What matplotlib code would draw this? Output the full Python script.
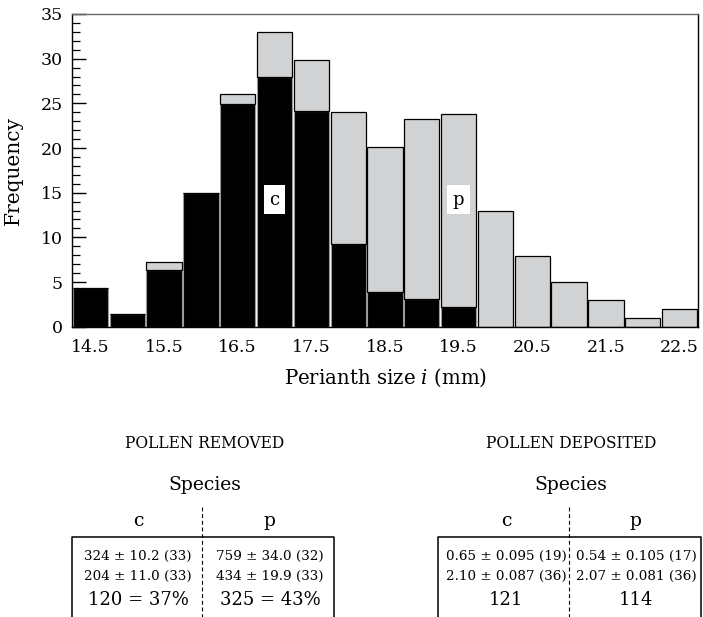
import matplotlib
matplotlib.use("Agg")
import matplotlib.pyplot as plt
from matplotlib.ticker import MultipleLocator
import numpy as np

plt.rcParams['font.family'] = ['DejaVu Serif']
plt.rcParams['mathtext.fontset'] = 'dejavuserif'

# ---- data ----
sizes = [14.5, 15.0, 15.5, 16.0, 16.5, 17.0, 17.5, 18.0, 18.5, 19.0, 19.5,
         20.0, 20.5, 21.0, 21.5, 22.0, 22.5]
freq_c = [4.35, 1.4, 6.3, 15.0, 24.9, 27.9, 24.15, 9.3, 3.9, 3.1, 2.2,
          0, 0, 0, 0, 0, 0]
freq_p = [0, 0, 0.9, 0, 1.1, 5.1, 5.75, 14.7, 16.2, 20.1, 21.65,
          12.9, 7.9, 5.0, 2.95, 1.0, 1.95]
xtick_vals = [14.5, 15.5, 16.5, 17.5, 18.5, 19.5, 20.5, 21.5, 22.5]
label_c_pos = (17.0, 14.2)
label_p_pos = (19.5, 14.2)

removed_title = "POLLEN REMOVED"
deposited_title = "POLLEN DEPOSITED"
species_cols = ["c", "p"]
removed_rows = [["324 ± 10.2 (33)", "759 ± 34.0 (32)"],
                ["204 ± 11.0 (33)", "434 ± 19.9 (33)"]]
removed_total = ["120 = 37%", "325 = 43%"]
deposited_rows = [["0.65 ± 0.095 (19)", "0.54 ± 0.105 (17)"],
                  ["2.10 ± 0.087 (36)", "2.07 ± 0.081 (36)"]]
deposited_total = ["121", "114"]

W, H = 703, 617
fig = plt.figure(figsize=(W / 100, H / 100), dpi=100)

# ---- histogram ----
ax = fig.add_axes([72 / W, 1 - 326.7 / H, 626 / W, 312.7 / H])
x = np.array(sizes)
c = np.array(freq_c)
p = np.array(freq_p)
ax.bar(x, c, width=0.48, color='black', edgecolor='#9a9a9a', linewidth=0.8, zorder=2)
ax.bar(x, p, width=0.48, bottom=c, color='#d1d2d4', edgecolor='black', linewidth=0.9, zorder=2)

ax.set_xlim(14.25, 22.75)
ax.set_ylim(0, 35)
ax.set_xticks(xtick_vals)
ax.set_xticklabels([f"{v:.1f}" for v in xtick_vals])
ax.yaxis.set_major_locator(MultipleLocator(5))
ax.yaxis.set_minor_locator(MultipleLocator(1))
ax.tick_params(axis='x', length=0, pad=8.5, labelsize=12.5)
ax.tick_params(axis='y', which='major', direction='in', length=10, width=1, pad=6.5, labelsize=12.5)
ax.tick_params(axis='y', which='minor', direction='in', length=5.5, width=0.9)
for s in ['left', 'right', 'bottom']:
    ax.spines[s].set_linewidth(1.0)
    ax.spines[s].set_color('black')
ax.spines['top'].set_color('#6a6a6a')
ax.spines['top'].set_linewidth(1.0)

ax.set_ylabel("Frequency", fontsize=14.5)
ax.yaxis.set_label_coords(-0.078, 0.5)
ax.set_xlabel("Perianth size $i$ (mm)", fontsize=14.2)
ax.xaxis.set_label_coords(0.5, -0.128)

bbox = dict(boxstyle='square,pad=0.3', facecolor='white', edgecolor='none')
ax.text(*label_c_pos, "c", ha='center', va='center', fontsize=13, bbox=bbox, zorder=3)
ax.text(*label_p_pos, "p", ha='center', va='center', fontsize=13, bbox=bbox, zorder=3)

# ---- bottom tables (pixel coordinates) ----
ov = fig.add_axes([0, 0, 1, 1])
ov.set_xlim(0, W)
ov.set_ylim(H, 0)
ov.axis('off')
ov.patch.set_visible(False)


def panel(title, rows, totals, cx, left, right, divx, col_x):
    ov.text(cx, 443, title, ha='center', va='center', fontsize=11.2)
    ov.text(cx, 485, "Species", ha='center', va='center', fontsize=13.5)
    for name, xx in zip(species_cols, col_x):
        ov.text(xx, 521, name, ha='center', va='center', fontsize=13.5)
    ov.plot([divx, divx], [507, 640], color='black', lw=0.8,
            linestyle=(0, (3.5, 2.5)), clip_on=False)
    ov.plot([left, left, right, right], [640, 537, 537, 640], color='black',
            lw=1.1, clip_on=False)
    for r, yy in zip(rows, [556, 576]):
        for txt, xx in zip(r, col_x):
            ov.text(xx, yy, txt, ha='center', va='center', fontsize=9.7)
    for txt, xx in zip(totals, col_x):
        ov.text(xx, 600, txt, ha='center', va='center', fontsize=13)


panel(removed_title, removed_rows, removed_total, 205, 72, 334, 202, [138, 270])
panel(deposited_title, deposited_rows, deposited_total, 571, 438, 701, 569, [506, 636])

fig.savefig("out.png", dpi=100)
